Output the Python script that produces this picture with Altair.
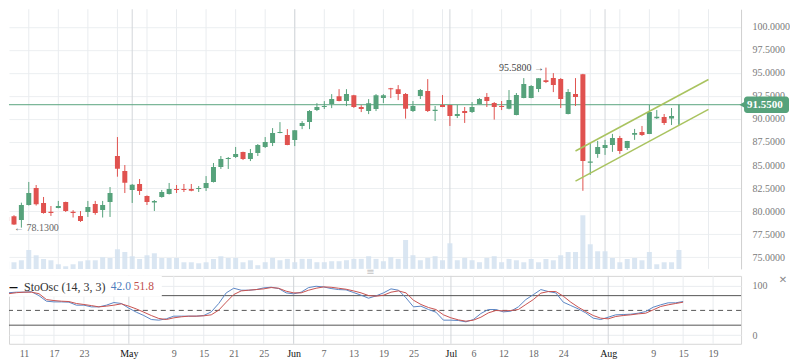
import altair as alt
import pandas as pd

# ---------------- data ----------------
# candle index (trading-day position), k = -3 .. 88
IDX = list(range(-3, 89))

OPEN = [79.36, 79.44, 79.03,
        80.66, 82.50, 80.88, 79.93, 80.34, 80.99, 79.93, 79.47, 79.90, 80.77,
        80.12, 80.99, 85.98, 84.35, 82.29, 82.94, 81.64, 80.92, 81.53, 81.86,
        82.40, 82.40, 82.40, 82.40, 82.50, 83.16, 84.79, 85.65, 85.87, 86.41,
        85.65, 86.30, 86.95, 87.39, 88.47, 88.25, 87.71, 89.23, 89.66, 90.97,
        91.29, 91.62, 92.48, 91.94, 92.59, 91.29, 90.86, 91.08, 92.27, 93.35,
        93.24, 92.71, 90.87, 92.49, 93.03, 90.87, 91.52, 91.52, 90.32, 90.87,
        90.76, 91.62, 92.38, 91.73, 91.41, 91.12, 90.43, 92.27, 92.27, 93.25,
        94.22, 94.44, 94.33, 90.54, 92.71, 94.87, 85.24, 86.21, 86.86, 87.18,
        87.94, 86.86, 88.30, 88.59, 88.38, 90.07, 90.22, 90.04, 89.40]
HIGH = [80.34, 79.55, 80.91,
        83.16, 82.83, 81.53, 80.55, 81.10, 81.02, 80.10, 80.00, 81.10, 81.10,
        81.10, 82.61, 88.04, 85.00, 82.94, 83.48, 81.70, 81.20, 82.29, 83.05,
        82.83, 82.94, 82.94, 82.72, 83.80, 85.22, 85.98, 85.87, 86.96, 86.45,
        86.74, 87.28, 88.04, 89.01, 89.66, 88.90, 88.80, 89.77, 90.97, 91.72,
        91.94, 92.70, 93.24, 93.24, 92.62, 91.50, 92.16, 92.70, 92.70, 93.38,
        93.68, 92.82, 91.95, 93.25, 94.33, 91.41, 92.60, 91.55, 91.52, 91.30,
        91.84, 92.27, 92.82, 91.84, 91.95, 93.14, 92.82, 94.44, 93.68, 94.44,
        95.58, 94.98, 94.44, 93.25, 94.44, 94.90, 87.40, 87.62, 87.73, 88.38,
        88.16, 87.62, 88.92, 89.24, 91.52, 90.97, 90.54, 91.19, 91.58]
LOW = [78.13, 78.50, 78.20,
       80.60, 80.60, 79.72, 79.47, 80.30, 79.90, 79.30, 78.82, 79.36, 79.60,
       79.30, 79.36, 83.73, 81.96, 80.88, 81.75, 80.66, 80.01, 81.45, 81.80,
       81.96, 82.07, 82.15, 82.07, 82.18, 83.10, 84.57, 84.57, 85.76, 85.54,
       85.43, 85.98, 86.85, 87.06, 88.45, 87.15, 87.06, 88.90, 88.90, 90.86,
       91.08, 91.18, 91.92, 91.40, 91.20, 90.75, 90.53, 90.86, 91.72, 92.27,
       92.05, 90.04, 90.76, 92.17, 90.76, 89.78, 91.28, 89.24, 90.10, 89.57,
       90.65, 91.60, 91.30, 89.93, 90.97, 91.05, 90.40, 92.25, 92.25, 92.92,
       93.90, 92.92, 91.19, 90.50, 91.41, 82.20, 83.93, 85.78, 86.10, 86.43,
       86.21, 86.64, 87.73, 88.16, 88.36, 90.00, 89.35, 89.35, 89.35]
CLOSE = [78.93, 78.53, 80.66,
         81.96, 80.74, 79.80, 79.80, 80.55, 80.01, 79.80, 78.93, 80.45, 79.80,
         80.66, 81.96, 84.60, 83.08, 82.86, 82.18, 80.99, 81.10, 82.07, 82.40,
         82.29, 82.29, 82.20, 82.50, 83.05, 84.79, 85.65, 85.76, 86.20, 85.65,
         86.30, 87.17, 87.50, 88.47, 88.58, 87.17, 88.78, 89.56, 90.86, 91.29,
         91.40, 92.16, 91.94, 92.70, 91.29, 91.08, 91.72, 92.59, 92.59, 93.24,
         92.70, 91.12, 91.41, 93.14, 90.87, 91.01, 91.30, 90.32, 90.54, 90.65,
         91.30, 92.17, 91.95, 91.30, 91.30, 92.06, 92.60, 93.79, 93.57, 94.42,
         94.01, 93.68, 92.17, 92.92, 92.38, 85.45, 85.38, 86.97, 87.18, 87.94,
         86.53, 87.60, 88.48, 88.27, 90.76, 90.25, 89.57, 90.32, 91.55]
VOLUME = [7.7, 6.7, 8.7,
          19.0, 13.7, 10.0, 8.7, 4.7, 2.7, 4.7, 7.7, 8.7, 8.7,
          11.7, 11.0, 19.7, 17.0, 12.7, 10.0, 13.7, 15.7, 11.0, 11.0,
          11.0, 6.7, 6.7, 5.7, 6.7, 10.0, 12.7, 11.0, 11.0, 6.7,
          8.7, 3.7, 6.7, 11.0, 8.7, 10.0, 6.7, 10.0, 10.0, 6.7,
          6.7, 7.7, 7.7, 8.7, 10.0, 10.0, 12.7, 10.0, 7.7, 11.7,
          10.0, 29.0, 13.7, 8.7, 11.0, 12.7, 8.7, 25.7, 8.7, 11.0,
          8.7, 6.7, 11.0, 12.7, 6.7, 10.0, 8.7, 6.7, 10.0, 6.7,
          10.0, 8.7, 13.7, 17.0, 17.0, 53.7, 24.7, 17.7, 17.7, 11.0,
          6.7, 10.0, 11.0, 8.7, 17.0, 4.7, 6.7, 6.7, 19.0]
STO_K = [79, 86, 87,
         87, 88, 80, 68.7, 67.3, 67.3, 66.7, 60.6, 60.6, 57.2,
         57.2, 60.6, 66, 64, 54.5, 46.4, 39.6, 31.5, 30.2, 32.9,
         38.3, 38.3, 38.3, 38.3, 39.6, 47, 64, 85.6, 95, 91,
         91, 92.3, 95.7, 97.1, 94.4, 85.6, 83.6, 87, 96.4, 99,
         97.7, 94.4, 92.3, 91.7, 86.3, 80.9, 74.8, 79.5, 85.6, 93.7,
         91, 75.5, 57.2, 58.6, 51.8, 46.4, 30.2, 30.2, 29.5, 26.8,
         31.5, 43.7, 51.8, 51.8, 47, 48.4, 57.2, 72, 82, 92.3,
         88.3, 85.6, 66.7, 59.9, 53.1, 45, 34.2, 31.5, 36.2, 41,
         41.6, 42.3, 44.3, 47.7, 56.5, 61.3, 65.4, 65.4, 68.1]
STO_D = [77.5, 84, 86,
         87, 87, 84, 72, 70, 68.7, 68, 64, 62, 59.8,
         57.2, 58.6, 60.6, 63.3, 58.6, 53, 46.4, 39.6, 33.6, 31.5,
         34.9, 37, 38.3, 38.3, 39, 41, 50.5, 66.7, 82.2, 89.6,
         91, 92.3, 93.7, 96.4, 95, 89, 85.6, 85.6, 91, 95,
         97.7, 97, 95, 93, 89.6, 85.6, 80.2, 78.9, 80.9, 87,
         89.6, 85.6, 70.7, 62, 55.9, 51.8, 41, 34.9, 30.8, 28.1,
         30.2, 36.2, 45, 49.8, 49.1, 49.8, 51.8, 62, 72, 85,
         88.3, 88.3, 78.9, 66.7, 56.5, 47.7, 39.6, 34.2, 32.9, 37.6,
         39.6, 41, 43, 44.3, 51.1, 57.9, 61.3, 64, 66.7]

TICK_POS = [0, 4, 8, 14, 20, 24, 28, 32, 36, 40, 44, 48, 52, 57, 60, 64, 68, 72, 78, 84, 88, 92]
TICK_TEXT = ["11", "17", "23", "May", "9", "15", "21", "25", "Jun", "7", "13", "19", "25",
             "Jul", "6", "12", "18", "24", "Aug", "9", "15", "19"]
MONTH_POS = [14, 36, 57, 78]
GRID_POS = list(range(0, 96, 4))
PRICE_TICKS = [75, 77.5, 80, 82.5, 85, 87.5, 90, 92.5, 95, 97.5, 100]

LAST_PRICE = 91.55
MAX_LABEL = "95.5800 \u2192"
MIN_LABEL = "\u2190 78.1300"

# channel drawn on the chart: (index, price) end points of the two lines
CHANNEL_LINE = ["upper", "upper", "lower", "lower"]
CHANNEL_IDX = [74, 92, 74, 92]
CHANNEL_PRICE = [86.52, 94.29, 83.26, 91.04]

# ---------------- frames ----------------
df = pd.DataFrame({"k": IDX, "open": OPEN, "high": HIGH, "low": LOW, "close": CLOSE,
                   "vol": VOLUME, "K": STO_K, "D": STO_D})
df["dir"] = ["up" if c >= o else "down" for o, c in zip(df["open"], df["close"])]
df["bw"] = 5
df.loc[df.index[-1], "bw"] = 1

grid_df = pd.DataFrame({"k": GRID_POS})
month_df = pd.DataFrame({"k": MONTH_POS})
chan_df = pd.DataFrame({"line": CHANNEL_LINE, "k": CHANNEL_IDX, "p": CHANNEL_PRICE})
last_df = pd.DataFrame({"p": [LAST_PRICE], "p1": [LAST_PRICE + 0.9], "p0": [LAST_PRICE - 0.9],
                        "lab": [f"{LAST_PRICE:.4f}"]})
imax = df["high"].idxmax()
imin = df["low"].idxmin()
hi_df = pd.DataFrame({"k": [df.loc[imax, "k"]], "p": [df.loc[imax, "high"]], "t": [MAX_LABEL]})
lo_df = pd.DataFrame({"k": [-2], "p": [df.loc[imin, "low"]], "t": [MIN_LABEL]})

GREEN = "#56a27b"
RED = "#e0524f"
W = 733
XDOM = [-2, -2 + W / 7.5]
FONT = "Liberation Serif"

xs = alt.Scale(domain=XDOM, nice=False, zero=False)
xq = alt.X("k:Q", scale=xs, axis=None)
pscale = alt.Scale(domain=[73.72, 101.92], nice=False, zero=False)
col = alt.Color("dir:N", scale=alt.Scale(domain=["up", "down"], range=[GREEN, RED]), legend=None)

price_axis = alt.Axis(orient="right", values=PRICE_TICKS, format=".4f", grid=True,
                      gridColor="#eceff1", ticks=False, domain=True, domainColor="#cfcfcf",
                      labelPadding=11, labelColor="#7a7a7a", labelFontSize=10,
                      labelFont=FONT, labelFlush=False, labelOverlap=False, title=None, zindex=0)


def PY(field):
    return alt.Y(field, scale=pscale, axis=price_axis, title=None)


vgrid = alt.Chart(grid_df).mark_rule(color="#e9ecef", strokeWidth=1).encode(x=xq)
vmonth = alt.Chart(month_df).mark_rule(color="#d3d6da", strokeWidth=1).encode(x=xq)

base = alt.Chart(df)
vol = base.mark_bar(color="#d3e2f0", opacity=0.85, clip=True).encode(
    x=xq, y=alt.Y("vol:Q", scale=alt.Scale(domain=[0, 260], nice=False), axis=None),
    size=alt.value(5))
wick = base.mark_rule(strokeWidth=1, clip=True).encode(
    x=xq, y=PY("low:Q"), y2="high:Q", color=col)
body = base.mark_bar(clip=True).encode(
    x=xq, y=PY("open:Q"), y2="close:Q", color=col, size=alt.Size("bw:Q", scale=None))
chan = alt.Chart(chan_df).mark_line(color="#a9c35f", strokeWidth=1.5).encode(
    x=xq, y=PY("p:Q"), detail="line:N")
lastline = alt.Chart(last_df).mark_rule(color="#5aa57e", strokeWidth=1).encode(y=PY("p:Q"))
tag = alt.Chart(last_df).mark_rect(color=GREEN, cornerRadius=3).encode(
    x=alt.value(736), x2=alt.value(781), y=PY("p1:Q"), y2="p0:Q")
tagtip = alt.Chart(last_df).mark_point(shape="triangle-left", filled=True, color=GREEN,
                                       size=70, opacity=1).encode(
    x=alt.value(735), y=PY("p:Q"))
tagtext = alt.Chart(last_df).mark_text(color="white", fontWeight="bold", fontSize=11,
                                       align="left", baseline="middle", font=FONT).encode(
    x=alt.value(739), y=PY("p:Q"), text="lab:N")
hi_txt = alt.Chart(hi_df).mark_text(align="right", baseline="middle", dx=-2, fontSize=10,
                                    color="#444", font=FONT).encode(
    x=xq, y=PY("p:Q"), text="t:N")
lo_txt = alt.Chart(lo_df).mark_text(align="left", baseline="middle", dx=0, fontSize=10,
                                    color="#666", font=FONT).encode(
    x=xq, y=PY("p:Q"), text="t:N")

price_layer = alt.layer(lastline, wick, body, chan, tag, tagtip, tagtext, hi_txt, lo_txt)
main = alt.layer(vgrid, vmonth, vol, price_layer).resolve_scale(y="independent").properties(
    width=W, height=260)

# ---------------- oscillator panel ----------------
sscale = alt.Scale(domain=[-17.8, 120.1], nice=False, zero=False)
label_expr = ("[" + ",".join("'%s'" % t for t in TICK_TEXT) + "][indexof(["
              + ",".join(str(p) for p in TICK_POS) + "], datum.value)]")
month_test = "indexof([" + ",".join(str(p) for p in MONTH_POS) + "], datum.value) >= 0"
x_axis = alt.Axis(values=TICK_POS, labelExpr=label_expr, grid=False, ticks=False, domain=False,
                  labelPadding=5, labelFontSize=10, labelFont=FONT, labelFlush=False,
                  labelOverlap=False, title=None,
                  labelColor={"condition": {"test": month_test, "value": "#111"}, "value": "#666"})
sx = alt.X("k:Q", scale=xs, axis=x_axis, title=None)
s_axis = alt.Axis(orient="right", values=[0, 100], format="d", grid=True, gridColor="#e9ecef",
                  ticks=False, domain=False, labelPadding=11, labelColor="#7a7a7a",
                  labelFontSize=10, labelFont=FONT, title=None, zindex=0)


def SY(field):
    return alt.Y(field, scale=sscale, axis=s_axis, title=None)


lev_df = pd.DataFrame({"v": [80, 20]})
mid_df = pd.DataFrame({"v": [50]})
one = pd.DataFrame({"a": [0]})

s_vgrid = alt.Chart(grid_df).mark_rule(color="#e9ecef").encode(x=sx)
s_vmonth = alt.Chart(month_df).mark_rule(color="#d3d6da").encode(x=sx)
levels = alt.Chart(lev_df).mark_rule(color="#555", strokeWidth=1).encode(y=SY("v:Q"))
midline = alt.Chart(mid_df).mark_rule(color="#555", strokeWidth=1, strokeDash=[5, 4]).encode(
    y=SY("v:Q"))
legbox = alt.Chart(one).mark_rect(color="white").encode(
    x=alt.value(0), x2=alt.value(153), y=alt.value(0), y2=alt.value(21))
kline = alt.Chart(df).mark_line(color="#5b86c4", strokeWidth=1, clip=True).encode(
    x=sx, y=SY("K:Q"))
dline = alt.Chart(df).mark_line(color="#c85250", strokeWidth=1, clip=True).encode(
    x=sx, y=SY("D:Q"))
leg_dash = alt.Chart(one).mark_text(text="\u2014", fontWeight="bold", fontSize=9, color="#111",
                                    align="left", baseline="middle", font="DejaVu Sans").encode(
    x=alt.value(0), y=alt.value(11))
leg_name = alt.Chart(one).mark_text(text="StoOsc (14, 3, 3)", fontSize=12, color="#333",
                                    align="left", baseline="middle", font=FONT).encode(
    x=alt.value(15), y=alt.value(11.5))
leg_k = alt.Chart(one).mark_text(text="42.0", fontSize=11.5, color="#4f7dbd",
                                 align="left", baseline="middle", font=FONT).encode(
    x=alt.value(102), y=alt.value(11.5))
leg_d = alt.Chart(one).mark_text(text="51.8", fontSize=11.5, color="#c0504d",
                                 align="left", baseline="middle", font=FONT).encode(
    x=alt.value(125), y=alt.value(11.5))
handle = alt.Chart(one).mark_text(text="\u2261", fontSize=10, color="#c4c4c4",
                                  font="DejaVu Sans").encode(x=alt.value(362), y=alt.value(-4))
closex = alt.Chart(one).mark_text(text="\u2715", fontSize=10, color="#8a8a8a",
                                  font="DejaVu Sans").encode(x=alt.value(775), y=alt.value(4))

stoch = alt.layer(s_vgrid, s_vmonth, levels, midline, legbox, kline, dline,
                  leg_dash, leg_name, leg_k, leg_d, handle, closex).properties(
    width=W, height=68, view=alt.ViewBackground(stroke="#d6d6d6"))

chart = alt.vconcat(main, stoch, spacing=7, bounds="flush").properties(
    padding=0, background="white").configure_view(stroke=None)

chart.save("out.html", embed_options={"renderer": "svg", "actions": False})
